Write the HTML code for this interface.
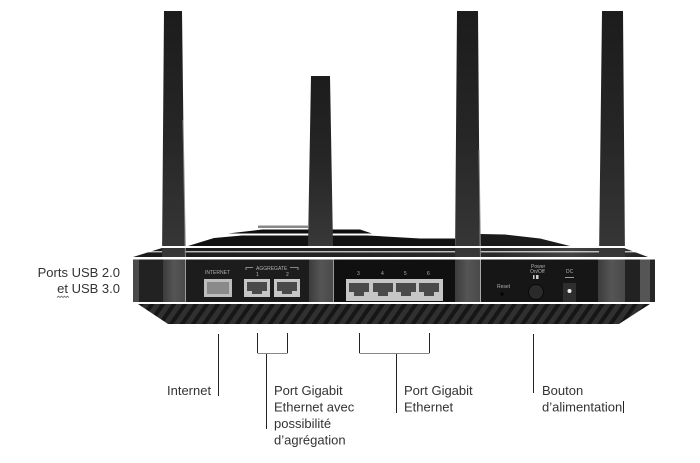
<!DOCTYPE html>
<html><head><meta charset="utf-8"><style>
html,body{margin:0;padding:0;background:#fff;}
svg{display:block;}
</style></head><body>
<svg width="700" height="463" viewBox="0 0 700 463" xmlns="http://www.w3.org/2000/svg">
<defs>
<linearGradient id="ant" x1="0" y1="0" x2="0" y2="1">
<stop offset="0" stop-color="#1c1c1c"/><stop offset="0.5" stop-color="#262626"/><stop offset="1" stop-color="#383838"/>
</linearGradient>
<linearGradient id="antb" x1="0" y1="0" x2="1" y2="0">
<stop offset="0" stop-color="#3c3c3c"/><stop offset="0.5" stop-color="#555"/><stop offset="1" stop-color="#4a4a4a"/>
</linearGradient>
<pattern id="vent" width="9" height="9" patternUnits="userSpaceOnUse" patternTransform="rotate(35)">
<rect width="9" height="9" fill="#303030"/><rect width="4" height="9" fill="#161616"/>
</pattern>
<linearGradient id="strip" x1="0" y1="0" x2="1" y2="0">
<stop offset="0" stop-color="#1a1a1a"/><stop offset="0.7" stop-color="#2a2a2a"/><stop offset="0.85" stop-color="#444"/><stop offset="1" stop-color="#222"/>
</linearGradient>
</defs>

<!-- top hump pieces -->
<rect x="258" y="225.5" width="50" height="2.5" fill="#888"/>
<polygon points="228,233.5 262,229.5 360,229.5 372,233.5" fill="#0e0e0e"/>
<polygon points="188,246 214,238 242,235.5 368,235.5 420,238.5 455,238.5 455,246" fill="#121212"/>
<polygon points="480,246 480,234 505,234.5 540,238.5 570,246" fill="#1a1a1a"/>
<polygon points="162,248 624,248 648,257 133,257" fill="url(#strip)"/>
<rect x="133" y="251.3" width="520" height="1" fill="#fff"/>

<!-- antennas -->
<polygon points="164,11 182,11 185,259 162,259" fill="url(#ant)"/>
<line x1="183" y1="120" x2="185.5" y2="259" stroke="#8a8a8a" stroke-width="1"/>
<polygon points="311,76 330,76 333,246 308,246" fill="url(#ant)"/>
<polygon points="457,11 478,11 480,259 455,259" fill="url(#ant)"/>
<line x1="479" y1="150" x2="480.5" y2="259" stroke="#8a8a8a" stroke-width="1"/>
<polygon points="602,11 623,11 625,259 599,259" fill="url(#ant)"/>

<!-- white scan lines -->
<rect x="120" y="246" width="540" height="2" fill="#fff"/>
<rect x="120" y="257" width="545" height="2.3" fill="#fff"/>

<!-- panel -->
<rect x="133" y="259.5" width="522" height="42.5" fill="#1c1c1c"/>
<rect x="133" y="259.5" width="6" height="42.5" fill="#4a4a4a"/>
<rect x="139" y="259.5" width="24" height="42.5" fill="#222"/>
<rect x="163" y="259.5" width="22" height="42.5" fill="url(#antb)"/>
<rect x="185" y="259.5" width="1" height="42.5" fill="#9a9a9a"/>
<rect x="309" y="259.5" width="24" height="42.5" fill="url(#antb)"/>
<rect x="333" y="259.5" width="1" height="42.5" fill="#9a9a9a"/>
<rect x="334" y="259.5" width="121" height="42.5" fill="#101010"/>
<rect x="455" y="259.5" width="25" height="42.5" fill="url(#antb)"/>
<rect x="480" y="259.5" width="1" height="42.5" fill="#aaa"/>
<rect x="481" y="259.5" width="117" height="42.5" fill="#161616"/>
<rect x="598" y="259.5" width="27" height="42.5" fill="url(#antb)"/>
<rect x="625" y="259.5" width="15" height="42.5" fill="#222"/>
<rect x="640" y="259.5" width="10" height="42.5" fill="#555"/>
<rect x="650" y="259.5" width="5" height="42.5" fill="#262626"/>

<!-- labels on panel -->
<g font-family="Liberation Sans, sans-serif" font-size="5" fill="#b0b0b0">
<text x="205" y="274">INTERNET</text>
<text x="256" y="270">AGGREGATE</text>
<text x="256" y="276">1</text><text x="286" y="276">2</text>
<text x="357" y="275">3</text><text x="381" y="275">4</text><text x="404" y="275">5</text><text x="427" y="275">6</text>
<text x="497" y="288">Reset</text>
<text x="531" y="268">Power</text><text x="530" y="273">On/Off</text>
<text x="566" y="273">DC</text>
</g>
<path d="M246,270 V267.5 H253 M290,267.5 H298 V270" stroke="#aaa" stroke-width="0.8" fill="none"/>
<rect x="533" y="275" width="1.5" height="4" fill="#ccc"/><rect x="536" y="275" width="2.5" height="4" fill="#ccc"/>
<rect x="565" y="277" width="9" height="1" fill="#999"/>
<circle cx="502" cy="294" r="1.8" fill="#050505"/>

<!-- ports -->
<rect x="204" y="279" width="28" height="18" fill="#bdbdbd"/>
<rect x="207" y="282" width="22" height="12" fill="#8a8a8a"/>
<rect x="244" y="279" width="26" height="18" fill="#c6c6c6"/>
<rect x="247" y="282" width="20" height="9" fill="#4a4a4a"/><rect x="252" y="291" width="10" height="3" fill="#4a4a4a"/>
<rect x="274" y="279" width="26" height="18" fill="#c6c6c6"/>
<rect x="277" y="282" width="20" height="9" fill="#4a4a4a"/><rect x="282" y="291" width="10" height="3" fill="#4a4a4a"/>
<rect x="346" y="279" width="97" height="22" fill="#c6c6c6"/>
<g fill="#4a4a4a">
<rect x="349" y="283" width="20" height="9"/><rect x="354" y="292" width="10" height="4"/>
<rect x="373" y="283" width="20" height="9"/><rect x="378" y="292" width="10" height="4"/>
<rect x="396" y="283" width="20" height="9"/><rect x="401" y="292" width="10" height="4"/>
<rect x="419" y="283" width="20" height="9"/><rect x="424" y="292" width="10" height="4"/>
</g>
<circle cx="536" cy="292" r="7.5" fill="#2a2a2a" stroke="#0a0a0a" stroke-width="1"/>
<rect x="563" y="283" width="13" height="19" fill="#2e2e2e"/>
<circle cx="569.5" cy="291" r="2" fill="#eee"/>

<!-- vent -->
<polygon points="138,304 650,304 619,324 168,324" fill="url(#vent)"/>

<!-- leader lines -->
<g stroke="#222" stroke-width="1" fill="none">
<line x1="218.5" y1="334" x2="218.5" y2="396"/>
<line x1="257.5" y1="333" x2="257.5" y2="353"/>
<line x1="287.5" y1="333" x2="287.5" y2="353"/>
<line x1="266.5" y1="353" x2="266.5" y2="429"/>
<line x1="359.5" y1="333" x2="359.5" y2="353"/>
<line x1="429.5" y1="333" x2="429.5" y2="353"/>
<line x1="396.5" y1="353" x2="396.5" y2="413"/>
<line x1="533.5" y1="334" x2="533.5" y2="393"/>
<line x1="623.5" y1="401" x2="623.5" y2="413"/>
</g>
<g stroke="#888" stroke-width="1" fill="none">
<line x1="257.5" y1="353.5" x2="287.5" y2="353.5"/>
<line x1="359.5" y1="353.5" x2="429.5" y2="353.5"/>
</g>

<!-- text -->
<g font-family="Liberation Sans, Arial, sans-serif" font-size="13" fill="#333">
<text x="120" y="277" text-anchor="end">Ports USB 2.0</text>
<text x="120" y="293" text-anchor="end">et USB 3.0</text>
<text x="167" y="395">Internet</text>
<text x="274" y="395">Port Gigabit</text>
<text x="274" y="411.5">Ethernet avec</text>
<text x="274" y="428">possibilité</text>
<text x="274" y="444.5">d’agrégation</text>
<text x="404" y="395">Port Gigabit</text>
<text x="404" y="411.5">Ethernet</text>
<text x="542" y="395">Bouton</text>
<text x="542" y="411.5">d’alimentation</text>
</g>
<path d="M57,297.5 l1.5,-1.3 l1.5,1.3 l1.5,-1.3 l1.5,1.3 l1.5,-1.3 l1.5,1.3 l1.5,-1.3 l1.5,1.3" stroke="#777" stroke-width="0.9" fill="none"/>
</svg>
</body></html>
